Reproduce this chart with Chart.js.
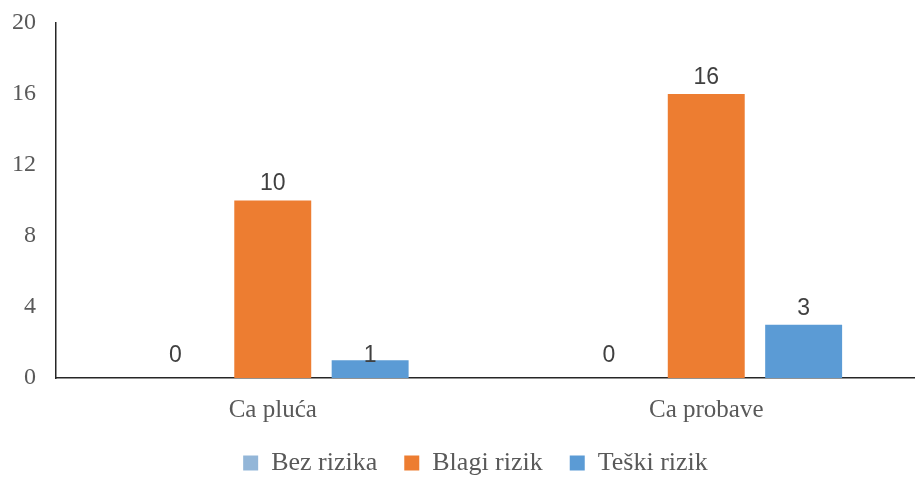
<!DOCTYPE html>
<html>
<head>
<meta charset="utf-8">
<script src="https://cdn.jsdelivr.net/npm/chart.js@4.4.1/dist/chart.umd.min.js"></script>
<style>
  html, body { margin: 0; padding: 0; background: #fff; overflow: hidden; }
  /* a bit wider than the window, the x axis in the original runs off the right edge */
  #wrap { width: 923px; height: 477px; }
</style>
</head>
<body>
<div id="wrap"><canvas id="chart"></canvas></div>
<script>
// categories and series
const categories = ['Ca pluća', 'Ca probave'];
const bezRizika = [0, 0];
const blagiRizik = [10, 16];
const teskiRizik = [1, 3];
const yTicks = [0, 4, 8, 12, 16, 20];

const serif = "'Liberation Serif', 'Times New Roman', serif";
const sans = "'Liberation Sans', Arial, sans-serif";

// draws the value above each bar, like excel data labels
const valueLabels = {
    id: 'valueLabels',
    afterDatasetsDraw(chart) {
        const ctx = chart.ctx;
        const base = chart.scales.y.getPixelForValue(0);
        ctx.save();
        ctx.font = '23px ' + sans;
        ctx.fillStyle = '#404040';
        ctx.textAlign = 'center';
        ctx.textBaseline = 'bottom';
        chart.data.datasets.forEach((ds, i) => {
            chart.getDatasetMeta(i).data.forEach((bar, j) => {
                // short bars: excel keeps the label where the zero label sits
                let y = (base - bar.y < 24) ? base - 11 : bar.y - 5;
                ctx.fillText(ds.data[j], bar.x, y);
            });
        });
        ctx.restore();
    }
};

// the legend in the original sits a little right of centre
const legendShift = {
    id: 'legendShift',
    afterLayout(chart) {
        chart.legend.left += 14;
        chart.legend.right += 14;
    }
};

new Chart(document.getElementById('chart').getContext('2d'), {
    type: 'bar',
    data: {
        labels: categories,
        datasets: [
            { label: 'Bez rizika', data: bezRizika, backgroundColor: '#93B6D8' },
            { label: 'Blagi rizik', data: blagiRizik, backgroundColor: '#ED7D31' },
            { label: 'Teški rizik', data: teskiRizik, backgroundColor: '#5B9BD5' }
        ]
    },
    options: {
        responsive: true,
        maintainAspectRatio: false,
        animation: false,
        categoryPercentage: 0.674,
        barPercentage: 0.79,
        layout: { padding: { top: 23, right: 0, left: 0, bottom: -9 } },
        plugins: {
            legend: {
                position: 'bottom',
                labels: {
                    boxWidth: 15,
                    boxHeight: 15,
                    padding: 27,
                    color: '#595959',
                    font: { family: serif, size: 26 }
                }
            },
            tooltip: { enabled: false }
        },
        scales: {
            x: {
                afterFit: (axis) => {
                    axis.height = 45;
                    axis.paddingLeft = 0;
                    axis.paddingRight = 0;
                },
                grid: { display: false, drawTicks: false },
                border: { display: true, color: '#262626', width: 1.5 },
                ticks: {
                    color: '#595959',
                    padding: 20,
                    font: { family: serif, size: 25, lineHeight: 1 }
                }
            },
            y: {
                min: 0,
                max: 20,
                afterBuildTicks: (axis) => { axis.ticks = yTicks.map(v => ({ value: v })); },
                afterFit: (axis) => {
                    axis.width = 56;
                    axis.paddingTop = 0;
                    axis.paddingBottom = 0;
                },
                grid: { display: false, drawTicks: false },
                border: { display: true, color: '#262626', width: 1.5 },
                ticks: {
                    color: '#595959',
                    padding: 20,
                    font: { family: serif, size: 24 }
                }
            }
        }
    },
    plugins: [valueLabels, legendShift]
});
</script>
</body>
</html>
